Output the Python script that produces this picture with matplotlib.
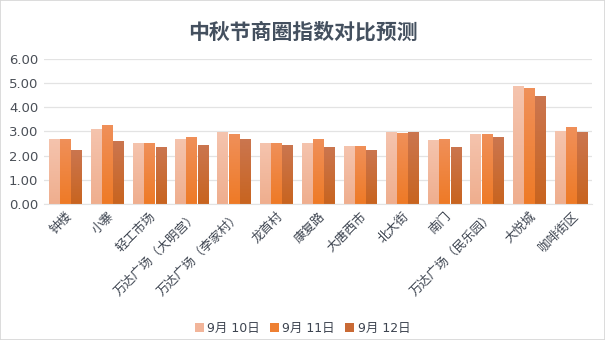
import numpy as np
import matplotlib
matplotlib.use("Agg")
import matplotlib.pyplot as plt
from matplotlib.colors import LinearSegmentedColormap
from matplotlib.patches import Rectangle

plt.rcParams['font.family'] = ['DejaVu Sans', 'Noto Sans CJK SC']

categories = ["钟楼", "小寨", "轻工市场", "万达广场（大明宫）", "万达广场（李家村）",
              "龙首村", "康复路", "大唐西市", "北大街", "南门",
              "万达广场（民乐园）", "大悦城", "咖啡街区"]
series_names = ["9月 10日", "9月 11日", "9月 12日"]
sep10 = [2.70, 3.12, 2.54, 2.70, 2.99, 2.54, 2.54, 2.41, 2.99, 2.66, 2.91, 4.90, 3.03]
sep11 = [2.70, 3.28, 2.54, 2.79, 2.91, 2.54, 2.70, 2.41, 2.95, 2.70, 2.91, 4.81, 3.20]
sep12 = [2.25, 2.62, 2.34, 2.46, 2.70, 2.46, 2.37, 2.25, 2.99, 2.37, 2.79, 4.48, 2.99]
yticks = [0, 1, 2, 3, 4, 5, 6]

# top / bottom colours of each series' vertical gradient
grad = [("#F5C4AE", "#EFAE8E"),
        ("#F0905A", "#EE7A26"),
        ("#CB7650", "#C8641F")]
legend_colors = ["#F2B59A", "#EE8033", "#C96A35"]

fig = plt.figure(figsize=(6.05, 3.4), dpi=100)
fig.patch.set_facecolor("white")
fig.patches.append(Rectangle((0, 0), 1, 1, transform=fig.transFigure,
                             fill=False, edgecolor="#d6d6d6", linewidth=1.2))
ax = fig.add_axes([0.0727, 0.40, 0.906, 0.4265])

x = np.arange(len(categories))
bw = 0.24
gap = 0.025
offsets = [-(bw + gap), 0, bw + gap]
grad_img = np.linspace(0, 1, 256).reshape(-1, 1)

for vals, off, (ctop, cbot), name, lc in zip([sep10, sep11, sep12], offsets, grad,
                                             series_names, legend_colors):
    cmap = LinearSegmentedColormap.from_list(name, [cbot, ctop])
    bars = ax.bar(x + off, vals, width=bw, color="none", edgecolor="none", zorder=2)
    for b in bars:
        x0, y0 = b.get_x(), b.get_y()
        w, h = b.get_width(), b.get_height()
        im = ax.imshow(grad_img, cmap=cmap, aspect="auto", origin="lower",
                       extent=(x0, x0 + w, y0, y0 + h), zorder=2)
        im.set_clip_path(b)
    ax.bar([0], [0], width=0, color=lc, label=name)

ax.set_xlim(-0.5, len(categories) - 0.5)
ax.set_ylim(0, 6)
ax.set_yticks(yticks)
ax.set_yticklabels([f"{v:.2f}" for v in yticks], fontsize=9.5, color="#4a4f57")
ax.set_xticks(x)
ax.set_xticklabels(categories, rotation=45, ha="right", rotation_mode="anchor",
                   fontsize=9, color="#3d4450")
ax.tick_params(axis="both", length=0, pad=4)
ax.grid(axis="y", color="#e3e3e3", linewidth=0.9, zorder=0)
ax.set_axisbelow(True)
for s in ["top", "right", "left"]:
    ax.spines[s].set_visible(False)
ax.spines["bottom"].set_color("#e3e3e3")

fig.text(0.5, 0.905, "中秋节商圈指数对比预测", ha="center", va="center",
         fontsize=15, fontweight="bold", color="#44505f")

handles, labels = ax.get_legend_handles_labels()
fig.legend(handles, labels, loc="center", bbox_to_anchor=(0.5, 0.035), ncol=3,
           frameon=False, fontsize=9, handlelength=0.7, handleheight=0.7,
           handletextpad=0.3, columnspacing=0.8, labelcolor="#3d4450")

fig.savefig("out.png", dpi=100)
